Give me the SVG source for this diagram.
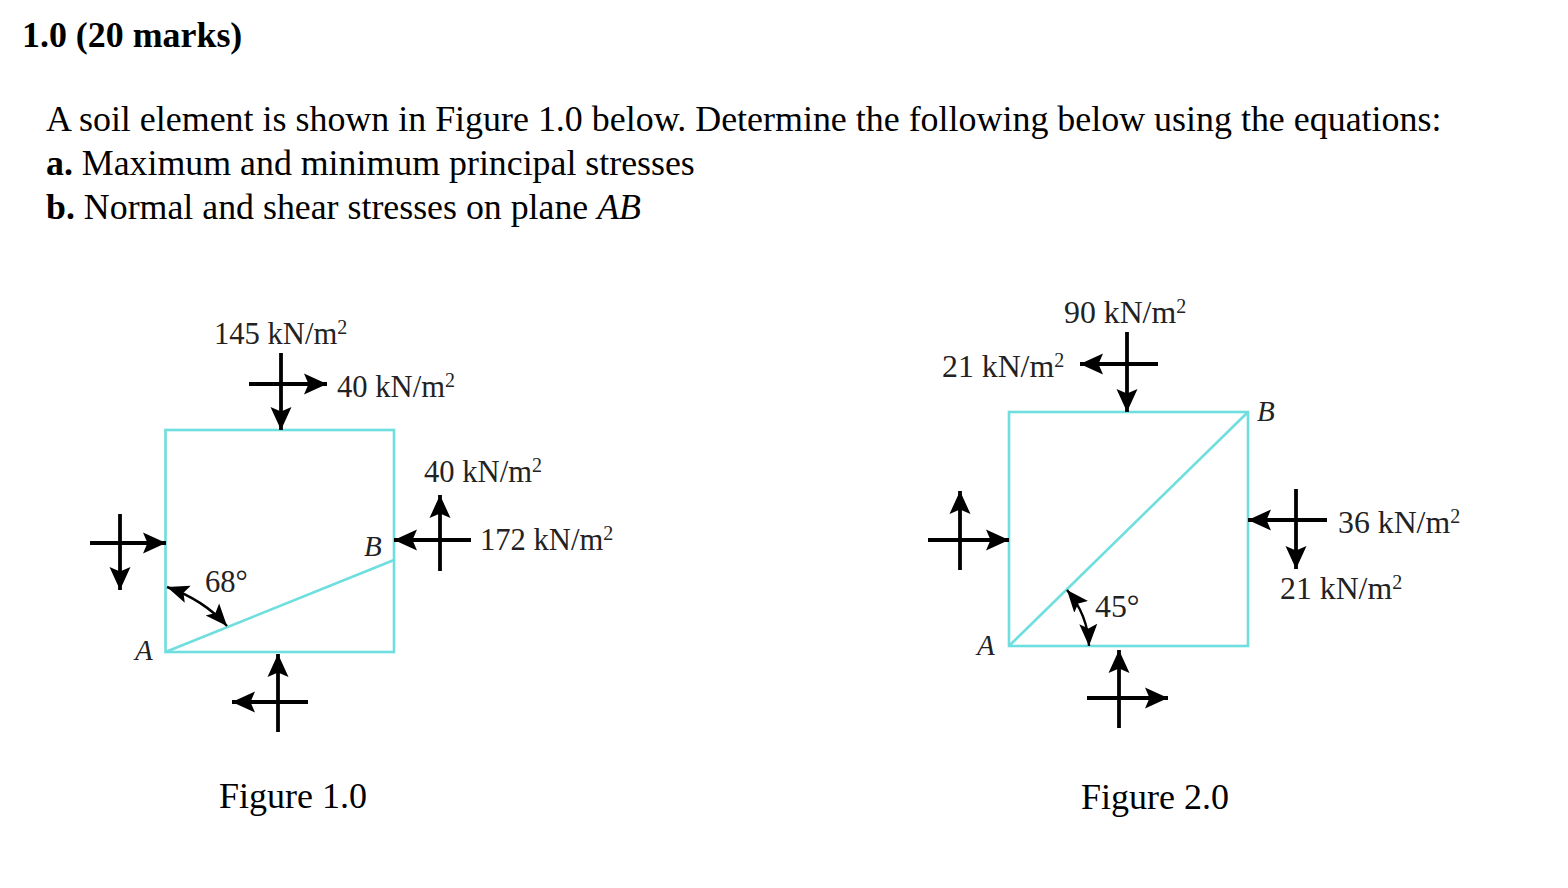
<svg xmlns="http://www.w3.org/2000/svg" width="1568" height="888" viewBox="0 0 1568 888">
<style>
text{font-family:"Liberation Serif","Times New Roman",serif;fill:#000}
.h{font-size:35.85px}
.l{font-size:30.6px;fill:#222}
.m{font-size:31.8px;fill:#222}
.f{font-size:36px;fill:#000}
.i{font-size:29px;font-style:italic;fill:#222}
.b{font-weight:bold}
.e{fill:none;stroke:#6fdede;stroke-width:2.6}
.a{fill:none;stroke:#000;stroke-width:3.8}
.t{fill:none;stroke:#000;stroke-width:2.4}
.s{font-size:20px}
</style>
<defs>
<marker id="ah" markerUnits="userSpaceOnUse" markerWidth="24" markerHeight="24" refX="23" refY="12" orient="auto-start-reverse">
<path d="M0 1.500L23 12L0 22.500L4.500 12Z" fill="#000"/>
</marker>
<marker id="sm" markerUnits="userSpaceOnUse" markerWidth="24" markerHeight="20" refX="22" refY="10" orient="auto-start-reverse">
<path d="M0 1L22 10L0 19L4.500 10Z" fill="#000"/>
</marker>
</defs>
<g id="heading">
<text class="h b" x="22" y="47" style="font-size:35.900px">1.0 (20 marks)</text>
<text class="h" x="46" y="131" style="font-size:35.930px">A soil element is shown in Figure 1.0 below. Determine the following below using the equations:</text>
<text class="h" x="46" y="175"><tspan class="b">a.</tspan> Maximum and minimum principal stresses</text>
<text class="h" x="46" y="219"><tspan class="b">b.</tspan> Normal and shear stresses on plane <tspan font-style="italic">AB</tspan></text>
</g>
<g id="figure-1">
<g id="element-1"><rect class="e" x="165.500" y="430" width="228.500" height="222"/><path class="e" d="M165.500 652L394 560"/></g>
<g id="labels-1">
<text class="l" x="214" y="344">145 kN/m<tspan class="s" dy="-10">2</tspan></text>
<text class="l" x="337" y="397">40 kN/m<tspan class="s" dy="-10">2</tspan></text>
<text class="l" x="424" y="482">40 kN/m<tspan class="s" dy="-10">2</tspan></text>
<text class="l" x="480" y="550">172 kN/m<tspan class="s" dy="-10">2</tspan></text>
<text class="l" x="205" y="592">68°</text>
<text class="i" x="364" y="556">B</text>
<text class="i" x="135" y="660">A</text>
<text class="f" x="219" y="808">Figure 1.0</text>
</g>
</g>
<g id="figure-2">
<g id="element-2"><rect class="e" x="1009" y="412" width="239" height="234"/><path class="e" d="M1009 646L1248 412"/></g>
<g id="labels-2">
<text class="m" x="1064" y="323">90 kN/m<tspan class="s" dy="-10">2</tspan></text>
<text class="m" x="942" y="377">21 kN/m<tspan class="s" dy="-10">2</tspan></text>
<text class="m" x="1338" y="533">36 kN/m<tspan class="s" dy="-10">2</tspan></text>
<text class="m" x="1280" y="599">21 kN/m<tspan class="s" dy="-10">2</tspan></text>
<text class="m" x="1095" y="617">45°</text>
<text class="i" x="1257" y="421">B</text>
<text class="i" x="977" y="655">A</text>
<text class="f" x="1081" y="809">Figure 2.0</text>
</g>
</g>
<g id="connectors">
<path class="a" marker-end="url(#ah)" d="M281 353V430"/>
<path class="a" marker-end="url(#ah)" d="M249 384H327"/>
<path class="a" marker-end="url(#ah)" d="M90 543H166"/>
<path class="a" marker-end="url(#ah)" d="M120 514V590"/>
<path class="a" marker-end="url(#ah)" d="M278 732V654"/>
<path class="a" marker-end="url(#ah)" d="M308 702H232"/>
<path class="a" marker-end="url(#ah)" d="M471 540H394"/>
<path class="a" marker-end="url(#ah)" d="M440 571V495"/>
<path class="t" marker-start="url(#sm)" marker-end="url(#sm)" d="M167 587Q204 600 227 626"/>
<path class="a" marker-end="url(#ah)" d="M1127 332V412"/>
<path class="a" marker-end="url(#ah)" d="M1158 364H1080"/>
<path class="a" marker-end="url(#ah)" d="M928 540H1009"/>
<path class="a" marker-end="url(#ah)" d="M960 570V491"/>
<path class="a" marker-end="url(#ah)" d="M1119 728V650"/>
<path class="a" marker-end="url(#ah)" d="M1087 698H1168"/>
<path class="a" marker-end="url(#ah)" d="M1327 520H1248"/>
<path class="a" marker-end="url(#ah)" d="M1296 489V569"/>
<path class="t" marker-start="url(#sm)" marker-end="url(#sm)" d="M1067 590Q1088 615 1089 646"/>
</g>
</svg>
